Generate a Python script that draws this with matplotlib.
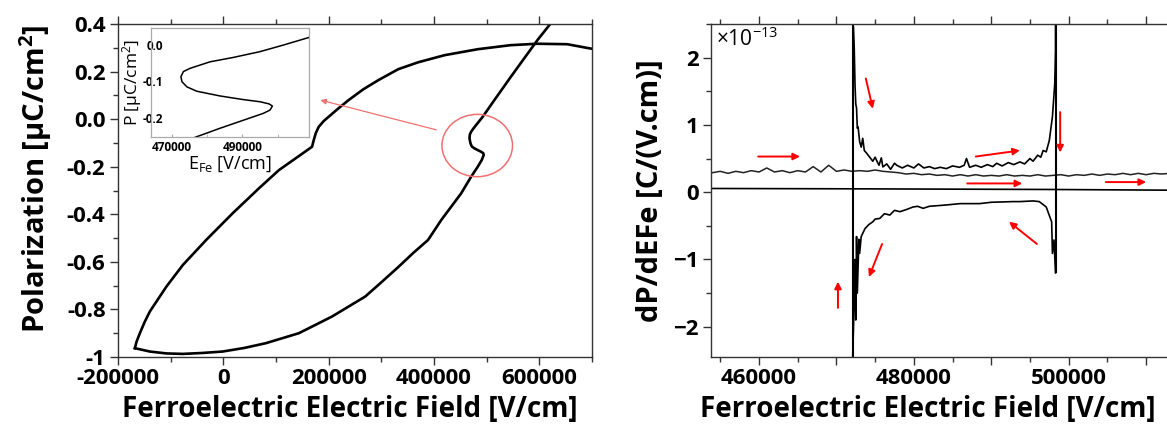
import numpy as np
import matplotlib
matplotlib.use("Agg")
import matplotlib.pyplot as plt
from matplotlib.patches import Ellipse
from matplotlib.ticker import FixedLocator, MultipleLocator, FixedFormatter

plt.rcParams['font.family'] = ['Open Sans', 'DejaVu Sans']
plt.rcParams['mathtext.fontset'] = 'custom'
plt.rcParams['mathtext.rm'] = 'Open Sans'
plt.rcParams['mathtext.bf'] = 'Open Sans:bold'
plt.rcParams['mathtext.default'] = 'regular'

# ---------------- Left panel: P-E loop ----------------
upper_E = [-167900, -164700, -158500, -149000, -139600, -127000, -108100,
           -76800, -32600, 17600, 68000, 105700, 137800, 168500, 171700,
           175500, 181200, 190600, 200000, 218900, 237800, 266100, 294400,
           332100, 369900, 420300, 483100, 545400, 596300, 652900, 694400,
           700000]
upper_P = [-0.963, -0.935, -0.900, -0.851, -0.809, -0.767, -0.704,
           -0.613, -0.508, -0.396, -0.290, -0.214, -0.164, -0.116, -0.088,
           -0.059, -0.032, -0.008, 0.010, 0.046, 0.080, 0.126, 0.164,
           0.210, 0.239, 0.269, 0.294, 0.311, 0.317, 0.315, 0.298,
           0.296]

lower_E = [-167900, -139600, -108100, -76800, -39600, -1300, 39600, 80600,
           143400, 206300, 269300, 294400, 332100, 360400, 388700, 413800,
           451600, 470500, 483100, 490600, 494400, 493500, 489300, 481200,
           476900, 471800, 469300, 467400, 468000, 470500, 474600, 479900,
           492500, 514600, 545900, 596300, 621400, 626500]
lower_P = [-0.963, -0.977, -0.985, -0.987, -0.983, -0.977, -0.962, -0.942,
           -0.900, -0.830, -0.746, -0.697, -0.622, -0.563, -0.508, -0.424,
           -0.312, -0.242, -0.200, -0.172, -0.151, -0.143, -0.137, -0.128,
           -0.123, -0.115, -0.102, -0.081, -0.065, -0.053, -0.040, -0.025,
           0.010, 0.080, 0.178, 0.332, 0.402, 0.428]

left_xticks = [-200000, 0, 200000, 400000, 600000]
left_xticklabels = ['-200000', '0', '200000', '400000', '600000']
left_yticks = [-1.0, -0.8, -0.6, -0.4, -0.2, 0.0, 0.2, 0.4]
left_yticklabels = ['-1', '-0.8', '-0.6', '-0.4', '-0.2', '0.0', '0.2', '0.4']

# inset
inset_E = [508900, 501600, 495000, 487400, 480800, 475100, 473200, 472500,
           472800, 474200, 477000, 483600, 490200, 495000, 497600, 498500,
           497800, 495900, 490200, 483600, 476500]
inset_P = [0.021, 0.000, -0.018, -0.034, -0.046, -0.064, -0.073, -0.087,
           -0.101, -0.115, -0.127, -0.140, -0.150, -0.156, -0.162, -0.168,
           -0.179, -0.188, -0.207, -0.229, -0.254]
inset_xticks = [470000, 490000]
inset_yticks = [0.0, -0.1, -0.2]
inset_yticklabels = ['0.0', '-0.1', '-0.2']

circle_center = (482100, -0.111)
circle_size = (134000, 0.262)
pointer_start = (404400, -0.045)
pointer_end = (184400, 0.080)

# ---------------- Right panel: dP/dE ----------------
flat_E = [453800, 472000, 498000, 512700]
flat_P = [0.055, 0.050, 0.040, 0.030]

base_E = np.arange(454000, 514000, 1000)
base_P = [0.29, 0.31, 0.28, 0.31, 0.29, 0.32, 0.30, 0.36, 0.30, 0.32,
          0.29, 0.32, 0.30, 0.38, 0.30, 0.40, 0.31, 0.33, 0.31, 0.32,
          0.31, 0.33, 0.31, 0.30, 0.29, 0.27, 0.28, 0.26, 0.27, 0.25,
          0.26, 0.24, 0.26, 0.24, 0.26, 0.24, 0.25, 0.24, 0.26, 0.24,
          0.25, 0.24, 0.26, 0.24, 0.25, 0.26, 0.24, 0.26, 0.25, 0.27,
          0.25, 0.27, 0.26, 0.28, 0.26, 0.28, 0.26, 0.28, 0.27, 0.28]

up_E = [472200, 472300, 472400, 472500, 472600, 472700, 472800, 473000,
        473200, 473400, 473600, 473900, 474300, 474700, 475000, 475200,
        475500, 475800, 476000, 476500, 477000, 477500, 477800, 478500,
        479200, 480000, 480600, 481300, 482000, 482700, 483400, 484200,
        485000, 485900, 486500, 486800, 487200, 488000, 488700, 489500,
        490200, 490700, 491400, 492200, 492900, 493700, 494300, 495000,
        495400, 496000, 496400, 496700, 497100, 497500, 497900, 498200,
        498300, 498300]
up_P = [2.45, 2.15, 1.60, 1.31, 1.25, 0.95, 0.97, 0.75,
        0.67, 0.80, 0.62, 0.58, 0.52, 0.46, 0.52, 0.47,
        0.40, 0.51, 0.375, 0.42, 0.34, 0.43, 0.40, 0.36,
        0.40, 0.36, 0.42, 0.36, 0.38, 0.35, 0.37, 0.35,
        0.39, 0.37, 0.40, 0.50, 0.37, 0.40, 0.37, 0.41,
        0.38, 0.43, 0.39, 0.44, 0.41, 0.45, 0.42, 0.50,
        0.46, 0.55, 0.52, 0.62, 0.60, 0.77, 1.12, 1.61,
        2.10, 2.50]

down_E = [498300, 498100, 497900, 497800, 497100, 496200, 495400, 493700,
          492800, 490000, 488500, 486000, 484200, 482000, 481200, 480500,
          479900, 479000, 478200, 477500, 476900, 476200, 475600, 475000,
          474700, 474200, 473700, 473200, 473000, 472900, 472700, 472600,
          472500, 472400, 472300, 472100]
down_P = [-1.20, -0.71, -0.91, -0.44, -0.22, -0.14, -0.13, -0.14,
          -0.14, -0.15, -0.17, -0.17, -0.19, -0.21, -0.24, -0.21,
          -0.22, -0.26, -0.29, -0.27, -0.34, -0.32, -0.39, -0.40,
          -0.44, -0.48, -0.54, -0.66, -0.91, -0.70, -1.50, -0.66,
          -1.90, -1.00, -1.60, -2.45]

spike_E = [472100, 498300]
spike_lo = [-2.45, -1.20]
spike_hi = [2.50, 2.50]

right_xticks = [460000, 470000, 480000, 490000, 500000, 510000]
right_xticklabels = ['460000', '', '480000', '', '500000', '']
right_yticks = [-2, -1, 0, 1, 2]

arrow_start_E = [459900, 473800, 488000, 498900, 486900, 504800, 470200, 475900, 495900]
arrow_start_P = [0.53, 1.69, 0.53, 1.19, 0.13, 0.15, -1.72, -0.77, -0.77]
arrow_end_E = [465300, 474700, 493700, 498900, 494000, 510000, 470200, 474200, 492300]
arrow_end_P = [0.53, 1.24, 0.62, 0.59, 0.13, 0.15, -1.33, -1.26, -0.44]

# ---------------- Figure ----------------
W, H = 1167, 436
fig = plt.figure(figsize=(W / 100, H / 100), dpi=100)

spine_c = '#333333'
ax1 = fig.add_axes([118 / W, 79 / H, 474 / W, 333 / H])
ax2 = fig.add_axes([711 / W, 79 / H, (W - 711) / W, 333 / H])

for ax in (ax1, ax2):
    for s in ax.spines.values():
        s.set_color(spine_c)
        s.set_linewidth(1.0)
    ax.tick_params(which='both', direction='out', top=True, right=False,
                   color=spine_c, labelsize=16, pad=3)
    ax.tick_params(axis='x', which='both', pad=2)
    ax.tick_params(which='major', length=6, width=1.0)
    ax.tick_params(which='minor', length=3.5, width=1.0)

# left panel
ax1.plot(upper_E, upper_P, color='black', lw=1.9, solid_joinstyle='round')
ax1.plot(lower_E, lower_P, color='black', lw=1.9, solid_joinstyle='round')
ax1.set_xlim(-200000, 700000)
ax1.set_ylim(-1.0, 0.4)
ax1.xaxis.set_major_locator(FixedLocator(left_xticks))
ax1.xaxis.set_major_formatter(FixedFormatter(left_xticklabels))
ax1.xaxis.set_minor_locator(MultipleLocator(100000))
ax1.yaxis.set_major_locator(FixedLocator(left_yticks))
ax1.yaxis.set_major_formatter(FixedFormatter(left_yticklabels))
ax1.yaxis.set_minor_locator(MultipleLocator(0.1))
for lab in ax1.get_xticklabels() + ax1.get_yticklabels():
    lab.set_fontweight('bold')
ax1.set_xlabel('Ferroelectric Electric Field [V/cm]', fontsize=20,
               fontweight='bold')
ax1.xaxis.set_label_coords(0.49, -0.115)
ax1.set_ylabel(r'Polarization [μC/cm$^{\mathbf{2}}$]', fontsize=21,
               fontweight='bold')
ax1.yaxis.set_label_coords(-0.135, 0.535)

ell = Ellipse(circle_center, circle_size[0], circle_size[1], fill=False,
              edgecolor='#f07070', lw=1.1, zorder=4)
ax1.add_patch(ell)
ax1.annotate('', xy=pointer_end, xytext=pointer_start,
             arrowprops=dict(arrowstyle='-|>', color='#f07070', lw=0.9,
                             mutation_scale=8, shrinkA=0, shrinkB=0), zorder=4)

# inset
axi = fig.add_axes([151 / W, (H - 137) / H, 158 / W, 109 / H])
axi.plot(inset_E, inset_P, color='black', lw=1.1, solid_joinstyle='round')
axi.set_xlim(464000, 508900)
axi.set_ylim(-0.253, 0.047)
for s in axi.spines.values():
    s.set_color('#aaaaaa')
    s.set_linewidth(0.9)
axi.xaxis.set_major_locator(FixedLocator(inset_xticks))
axi.xaxis.set_minor_locator(MultipleLocator(10000))
axi.yaxis.set_major_locator(FixedLocator(inset_yticks))
axi.yaxis.set_major_formatter(FixedFormatter(inset_yticklabels))
axi.tick_params(which='both', direction='in', length=2, color='#aaaaaa',
                labelsize=8.5)
axi.tick_params(axis='y', which='both', length=0, pad=-9)
axi.tick_params(axis='x', pad=3)
for lab in axi.get_xticklabels() + axi.get_yticklabels():
    lab.set_fontweight('bold')
axi.set_xlabel(r'E$_{Fe}$ [V/cm]', fontsize=13, labelpad=0)
axi.set_ylabel(r'P [μC/cm$^{2}$]', fontsize=12.5, labelpad=-1)

# right panel
ax2.plot(flat_E, flat_P, color='black', lw=1.2)
ax2.plot(base_E, base_P, color='#222222', lw=1.1)
ax2.plot(up_E, up_P, color='black', lw=1.2)
ax2.plot(down_E, down_P, color='black', lw=1.2)
ax2.vlines(spike_E, spike_lo, spike_hi, color='black', lw=1.5)
ax2.set_xlim(453800, 512700)
ax2.set_ylim(-2.45, 2.5)
ax2.xaxis.set_major_locator(FixedLocator(right_xticks))
ax2.xaxis.set_major_formatter(FixedFormatter(right_xticklabels))
ax2.xaxis.set_minor_locator(MultipleLocator(5000))
ax2.yaxis.set_major_locator(FixedLocator(right_yticks))
ax2.yaxis.set_minor_locator(MultipleLocator(0.5))
ax2.spines['right'].set_visible(False)
for lab in ax2.get_xticklabels() + ax2.get_yticklabels():
    lab.set_fontweight('bold')
ax2.set_xlabel('Ferroelectric Electric Field [V/cm]', fontsize=20,
               fontweight='bold')
ax2.xaxis.set_label_coords(0.476, -0.115)
ax2.set_ylabel('dP/dEFe [C/(V.cm)]', fontsize=21, fontweight='bold',
               labelpad=6)
ax2.text(0.012, 0.99, r'×10$^{-13}$', transform=ax2.transAxes,
         fontsize=15, va='top', ha='left')

for x0, y0, x1, y1 in zip(arrow_start_E, arrow_start_P, arrow_end_E, arrow_end_P):
    ax2.annotate('', xy=(x1, y1), xytext=(x0, y0),
                 arrowprops=dict(arrowstyle='-|>', color='red', lw=1.4,
                                 mutation_scale=10, shrinkA=0, shrinkB=0))

fig.savefig('out.png', dpi=100)
